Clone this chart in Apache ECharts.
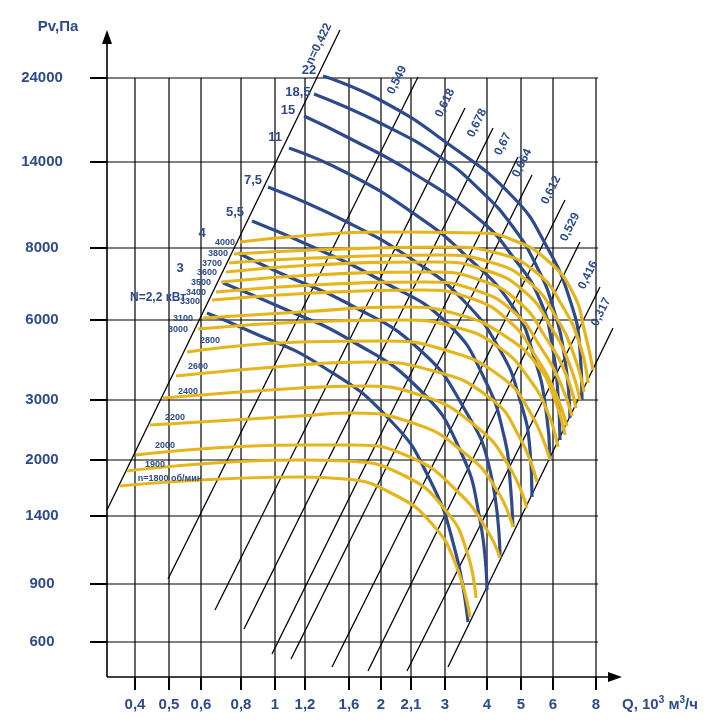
<!DOCTYPE html>
<html><head><meta charset="utf-8">
<script src="https://cdn.jsdelivr.net/npm/echarts@6/dist/echarts.min.js"></script>
<style>html,body{margin:0;padding:0;background:#fff}#c{width:724px;height:727px}</style>
</head><body><div id="c"></div>
<script>
// Chart frame units (non-uniform printed scales are mapped onto a linear frame)
const xTickLabels = ['0,4','0,5','0,6','0,8','1','1,2','1,6','2','2,1','3','4','5','6','8'];
const xTickPos = [135,169,201,241,275,305,349,381,411,445,487,521,553,596];
const yTickLabels = ['24000','14000','8000','6000','3000','2000','1400','900','600'];
const yTickPos = [78,162,248,320,400,460,516,584,642];

// rpm curves (yellow)
const rpmNames = ['4000','3800','3700','3600','3500','3400','3300','3100','3000','2800','2600','2400','2200','2000','1900','1800'];
const rpm4000 = [[240,242],[313,235],[380,232],[480,233],[513,240],[547,260],[573,293],[585,333],[593,370]];
const rpm3800 = [[234,254],[313,250],[447,247],[497,253],[537,273],[563,307],[580,345],[588,383]];
const rpm3700 = [[229,263],[313,258],[440,255],[490,262],[530,283],[556,317],[574,355],[584,392]];
const rpm3600 = [[226,272],[313,265],[435,262],[485,270],[525,292],[551,327],[569,363],[580,400]];
const rpm3500 = [[221,282],[313,275],[430,272],[480,280],[520,303],[546,338],[565,372],[576,408]];
const rpm3400 = [[216,292],[313,285],[425,282],[475,290],[515,313],[541,348],[560,382],[572,416]];
const rpm3300 = [[212,300],[313,293],[420,290],[470,298],[510,322],[536,357],[555,392],[567,426]];
const rpm3100 = [[203,318],[300,312],[400,307],[460,315],[505,336],[538,366],[555,400],[565,435]];
const rpm3000 = [[198,329],[300,322],[400,320],[455,327],[500,348],[530,380],[548,413],[558,447]];
const rpm2800 = [[187,352],[300,342],[383,341],[445,350],[500,376],[530,412],[550,460]];
const rpm2600 = [[176,376],[300,365],[367,362],[430,370],[490,398],[520,438],[537,482]];
const rpm2400 = [[163,398],[300,388],[360,386],[420,395],[478,428],[510,468],[527,508]];
const rpm2200 = [[150,425],[300,416],[350,413],[410,422],[467,455],[498,492],[513,527]];
const rpm2000 = [[136,455],[300,445],[350,445],[410,457],[458,492],[487,530],[500,558]];
const rpm1900 = [[127,471],[300,460],[345,461],[405,476],[447,512],[467,552],[476,598]];
const rpm1800 = [[120,486],[300,477],[345,479],[395,495],[433,525],[456,565],[470,617]];
const rpmCurves = [rpm4000,rpm3800,rpm3700,rpm3600,rpm3500,rpm3400,rpm3300,rpm3100,rpm3000,rpm2800,rpm2600,rpm2400,rpm2200,rpm2000,rpm1900,rpm1800];

// power curves (blue), kW
const powNames = ['22','18,5','15','11','7,5','5,5','4','3','2,2'];
const pow22 = [[323,76],[380,100],[447,143],[513,197],[547,247],[570,300],[580,350],[582,400]];
const pow185 = [[314,94],[380,123],[440,157],[480,190],[513,227],[537,267],[553,307],[565,360],[570,418]];
const pow15 = [[304,116],[347,137],[413,173],[480,220],[513,257],[540,300],[553,350],[558,395],[560,440]];
const pow11 = [[289,148],[347,173],[413,213],[463,253],[513,307],[535,360],[546,410],[550,460]];
const pow75 = [[268,187],[347,222],[413,260],[463,300],[500,350],[520,400],[530,450],[532,497]];
const pow55 = [[252,221],[313,247],[380,280],[447,323],[485,380],[505,440],[510,480],[513,527]];
const pow4 = [[238,253],[280,273],[347,303],[420,350],[465,410],[490,470],[500,558]];
const pow3 = [[223,283],[280,307],[350,340],[420,390],[460,450],[480,520],[487,590]];
const pow22b = [[207,313],[247,330],[320,365],[390,420],[430,480],[455,550],[468,622]];
const powCurves = [pow22,pow185,pow15,pow11,pow75,pow55,pow4,pow3,pow22b];

// efficiency lines
const effNames = ['n=0,422','0,549','0,618','0,678','0,67','0,664','0,612','0,529','0,416','0,317'];
const effBottom = [[107,510],[168,579],[215,610],[244,629],[272,654],[291,659],[332,667],[368,671],[407,671],[448,667]];
const effTop = [[340,30],[418,77],[465,108],[493,128],[518,157],[532,175],[565,200],[580,242],[600,287],[613,328]];

const NAVY = '#2D4A8A', YEL = '#E5B51C', BLUE = '#2C4A8C';
const FONT = 'Liberation Sans, Arial, sans-serif';
const series = [];
const line = (data, color, w, z) => ({type:'line', data, showSymbol:false, silent:true, animation:false, z,
  lineStyle:{color, width:w}, itemStyle:{color}});
yTickPos.forEach(y => series.push(line([[107,y],[598,y]], '#000', 1.2, 1)));
xTickPos.forEach(x => series.push(line([[x,78],[x,677]], '#000', 1.2, 1)));
yTickPos.forEach(y => series.push(line([[90,y],[107,y]], '#000', 2, 1)));
xTickPos.forEach(x => series.push(line([[x,677],[x,690]], '#000', 2, 1)));
series.push(line([[107,677],[107,40]], '#000', 1.6, 2));
series.push(line([[107,677],[612,677]], '#000', 1.6, 2));
effNames.forEach((n,i) => series.push(line([effBottom[i], effTop[i]], '#000', 1.3, 2)));
powCurves.forEach(d => { const s = line(d, BLUE, 3.2, 3); s.smooth = 0.5; series.push(s); });
rpmCurves.forEach(d => { const s = line(d, YEL, 3.2, 4); s.smooth = 0.5; series.push(s); });

const chart = echarts.init(document.getElementById('c'), null, {renderer:'canvas'});
chart.setOption({
  animation:false,
  grid:{left:0,top:0,right:0,bottom:0},
  xAxis:{type:'value', min:0, max:724, show:false},
  yAxis:{type:'value', min:0, max:727, inverse:true, show:false},
  series
});

const P = (x,y) => chart.convertToPixel({gridIndex:0}, [x,y]);
const g = [];
const txt = (x, y, text, size, opts={}) => {
  const p = P(x,y);
  g.push({type:'text', x:p[0], y:p[1], rotation:opts.rot||0, z:10,
    style:{text, fill:opts.color||NAVY, font:`bold ${size}px ${FONT}`, align:opts.align||'center', verticalAlign:'middle'}});
};
[[107,30,0],[622,677,-Math.PI/2]].forEach(([x,y,r]) => { const p=P(x,y);
  g.push({type:'polygon', x:p[0], y:p[1], rotation:r, z:10, shape:{points:[[0,0],[-5,14],[5,14]]}, style:{fill:'#000'}}); });
txt(58,27,'Pv,Па',15);
yTickLabels.forEach((t,i) => txt(42, yTickPos[i], t, 15));
xTickLabels.forEach((t,i) => txt(xTickPos[i], 705, t, 15));
const rq = P(622,705);
g.push({type:'text', x:rq[0], y:rq[1], z:10, style:{text:'Q, 10{s|3} м{s|3}/ч', fill:NAVY, font:`bold 15px ${FONT}`, verticalAlign:'middle',
  rich:{s:{fontSize:10, fontWeight:'bold', fill:NAVY, verticalAlign:'top', padding:[0,0,10,0]}}}});
const effLab = [[326,47],[404,83],[452,106],[484,126],[510,147],[529,166],[558,193],[577,230],[595,278],[608,315]];
effNames.forEach((n,i) => txt(effLab[i][0]-7, effLab[i][1]-3, n, 12, {rot:64*Math.PI/180}));
const powLab = [[309,70],[298,92],[288,110],[275,137],[253,180],[235,212],[202,233],[180,268]];
powNames.slice(0,8).forEach((n,i) => txt(powLab[i][0], powLab[i][1], n, 13));
txt(158,298,'N=2,2 кВт',12);
const rpmLab = [[225,243],[218,254],[212,264],[207,273],[201,283],[196,293],[190,302],[183,319],[178,330],[210,341],[198,367],[188,392],[175,418],[165,446],[155,465]];
rpmNames.slice(0,15).forEach((n,i) => txt(rpmLab[i][0], rpmLab[i][1], n, 9));
txt(170,479,'n=1800 об/мин',9);
chart.setOption({graphic:g});
</script></body></html>
